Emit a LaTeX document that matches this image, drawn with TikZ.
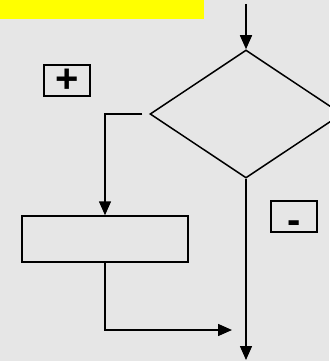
\documentclass[tikz,border=0pt]{standalone}
\usepackage{fontspec}
\setmainfont{Liberation Sans}
\usetikzlibrary{arrows.meta,shapes.geometric}
\definecolor{paper}{HTML}{E6E6E6}
\definecolor{marker}{HTML}{FFFF00}
\tikzset{
  flow/.style={line width=1.5pt, -{Triangle[length=14pt,width=12pt]}},
  signbox/.style={draw, line width=1.2pt, minimum width=46pt, minimum height=31pt,
    inner sep=0pt, font=\fontsize{40}{40}\selectfont\bfseries},
  stepbox/.style={draw, line width=1.5pt, minimum width=166pt, minimum height=46pt},
  cond/.style={draw, diamond, line width=1.5pt, minimum width=192pt, minimum height=128pt,
    inner sep=0pt}
}
\begin{document}
\begin{tikzpicture}[x=1pt, y=-1pt]
  \fill[paper] (0,0) rectangle (329,361);
  \useasboundingbox (0,0) rectangle (329,361);
  \fill[marker] (0,0) rectangle (204,19);
  \node[cond] (test) at (246,114) {};
  \node[stepbox] (body) at (105,239) {};
  \node[signbox] (plus) at (67,80.5) {+};
  \node[signbox] (minus) at (294,216.5) {\raisebox{-16.5pt}[0pt][0pt]{-}};
  \coordinate (entry) at (246,4);
  \coordinate (join) at (232,330);
  \coordinate (exit) at (246,360);
  % connectors
  \draw[flow] (entry) -- (test.north);
  \draw[flow, shorten <=7pt] (test.west) -| (body.north);
  \draw[flow] (body.south) |- (join);
  \draw[flow] (test.south) -- (exit);
\end{tikzpicture}
\end{document}
